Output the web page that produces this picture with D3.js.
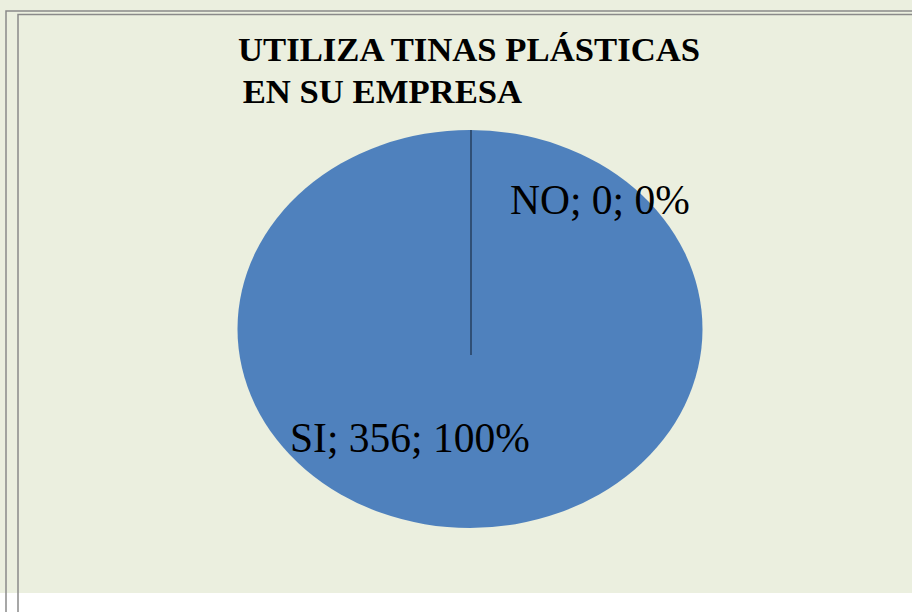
<!DOCTYPE html>
<html><head><meta charset="utf-8">
<script src="https://cdn.jsdelivr.net/npm/d3@7"></script>
<style>body{margin:0;background:#fff}svg{display:block}
.ttl{font-family:'Liberation Serif','Times New Roman',Times,serif;font-weight:700;font-size:34.7px;white-space:pre}
.lab{font-family:'Liberation Serif','Times New Roman',Times,serif;font-size:41.5px}
</style>
</head><body>
<svg id="c" width="912" height="612"></svg>
<script>
const titleLines = ["UTILIZA TINAS PLÁSTICAS", " EN SU EMPRESA"];
const categories = ["NO", "SI"];
const values = [0, 356];
const colors = ["#4F81BD", "#4F81BD"];

const svg = d3.select("#c");
svg.append("rect").attr("x",0).attr("y",0).attr("width",912).attr("height",593).attr("fill","#EBEFDF");
svg.append("path").attr("d","M6,612V11H912").attr("fill","none").attr("stroke","#8a8a8a").attr("stroke-width",1.5);
svg.append("path").attr("d","M18,612V14.5H912").attr("fill","none").attr("stroke","#8a8a8a").attr("stroke-width",1.5);

const t = svg.append("text").attr("class","ttl").attr("fill","#000");
t.append("tspan").attr("x",238).attr("y",61).text(titleLines[0]);
t.append("tspan").attr("x",234).attr("y",103).text(titleLines[1]);

const cx = 470, cy = 329, rx = 232.5, ry = 199;
const total = d3.sum(values);
const pie = d3.pie().sort(null).value(d => d)(values);
const arc = d3.arc().innerRadius(0).outerRadius(1);
const g = svg.append("g").attr("transform",`translate(${cx},${cy})`);
g.selectAll("path.s").data(pie).join("path").attr("class","s")
  .attr("transform",`scale(${rx},${ry})`)
  .attr("d",arc).attr("fill",(d,i)=>colors[i]).attr("stroke","none");

// slice boundary of the zero slice
const a0 = pie[0].startAngle;
g.append("line")
  .attr("x1", Math.sin(a0)*rx + 1).attr("y1", -Math.cos(a0)*ry)
  .attr("x2", 1).attr("y2", 26)
  .attr("stroke","#1F3550").attr("stroke-width",1.3);

const fmt = (i) => `${categories[i]}; ${values[i]}; ${Math.round(values[i]/total*100)}%`;
const labelPos = [[510, 214], [290, 452]];
svg.selectAll("text.lab").data(values).join("text").attr("class","lab")
  .attr("x",(d,i)=>labelPos[i][0]).attr("y",(d,i)=>labelPos[i][1])
  .attr("fill","#000")
  .text((d,i)=>fmt(i));
</script>
</body></html>
